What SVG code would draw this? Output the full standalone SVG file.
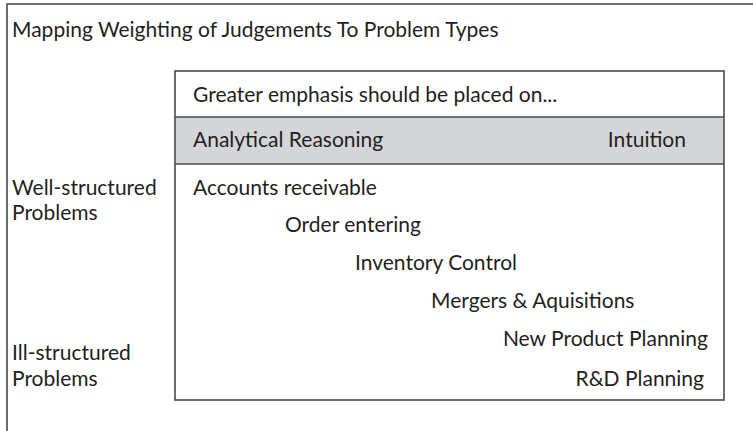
<svg xmlns="http://www.w3.org/2000/svg" width="753" height="431" viewBox="0 0 753 431">
<style>
.t{font-family:Lato,"Noto Sans","Liberation Sans",sans-serif;font-size:21px;fill:#231f20}
.b{fill:none;stroke:#4a4a4a;stroke-width:1.6}
</style>
<rect width="753" height="431" fill="#ffffff"/>
<g id="frame">
<rect class="b" x="7" y="4" width="800" height="500"/>
<text class="t" x="12" y="37">Mapping Weighting of Judgements To Problem Types</text>
</g>
<g id="table">
<rect x="175" y="117" width="549" height="47" fill="#d4d5d7"/>
<rect class="b" x="175" y="71" width="549" height="329"/>
<line class="b" x1="175" y1="117" x2="724" y2="117"/>
<line class="b" x1="175" y1="164" x2="724" y2="164"/>
<text class="t" x="193" y="102">Greater emphasis should be placed on...</text>
<text class="t" x="193" y="147">Analytical Reasoning</text>
<text class="t" x="686" y="147" text-anchor="end">Intuition</text>
</g>
<g id="axis">
<text class="t" x="12" y="195">Well-structured</text>
<text class="t" x="12" y="220">Problems</text>
<text class="t" x="12" y="360">Ill-structured</text>
<text class="t" x="12" y="386">Problems</text>
</g>
<g id="items">
<text class="t" x="193" y="195">Accounts receivable</text>
<text class="t" x="285" y="232">Order entering</text>
<text class="t" x="355" y="270">Inventory Control</text>
<text class="t" x="431" y="308">Mergers &amp; Aquisitions</text>
<text class="t" x="708" y="346" text-anchor="end">New Product Planning</text>
<text class="t" x="704" y="386" text-anchor="end">R&amp;D Planning</text>
</g>
</svg>
